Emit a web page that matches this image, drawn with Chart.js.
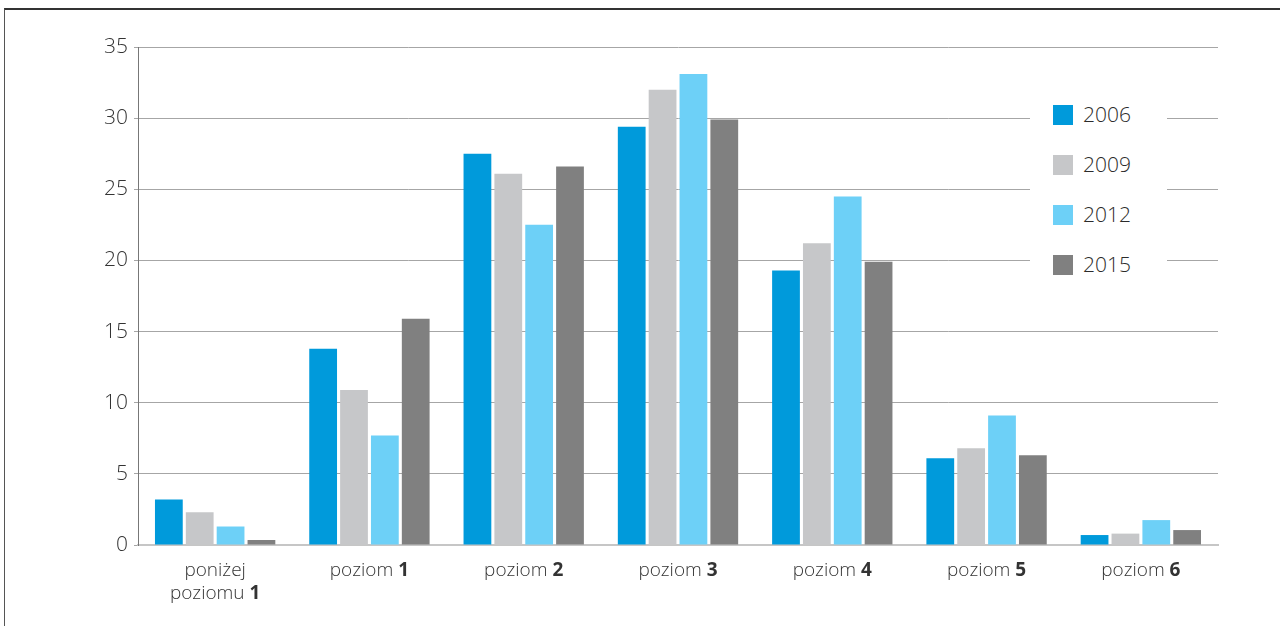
<!DOCTYPE html>
<html>
<head>
<meta charset="utf-8">
<script src="https://cdn.jsdelivr.net/npm/chart.js@4"></script>
<style>
  html, body { margin: 0; padding: 0; background: #fff; }
  .wrap { position: relative; width: 1280px; height: 626px; overflow: hidden; }
  .frame { position: absolute; left: 4px; top: 8px; width: 1300px; height: 700px;
           border-top: 2px solid #333; border-left: 1px solid #555; }
  canvas { position: absolute; left: 0; top: 0; }
  .legend { position: absolute; left: 1030px; top: 96px; width: 137px; height: 194px;
            background: #fff; font-family: "Open Sans", sans-serif; font-weight: 300;
            color: #2b2b2b; font-size: 21px; }
  .legend div { position: absolute; left: 23px; height: 22px; line-height: 22px; }
  .legend span { display: inline-block; width: 20px; height: 20px; vertical-align: -3px; margin-right: 10px; }
</style>
</head>
<body>
<div class="wrap">
  <div class="frame"></div>
  <canvas id="c" width="1280" height="626"></canvas>
  <div class="legend" id="legend"></div>
</div>
<script>
// dane
const categories = [["poniżej", "poziomu 1"], "poziom 1", "poziom 2", "poziom 3", "poziom 4", "poziom 5", "poziom 6"];
const years = ["2006", "2009", "2012", "2015"];
const colors = ["#009adb", "#c6c7c9", "#6dd0f7", "#808080"];
const v2006 = [3.2, 13.8, 27.5, 29.4, 19.3, 6.1, 0.7];
const v2009 = [2.3, 10.9, 26.1, 32.0, 21.2, 6.8, 0.8];
const v2012 = [1.3, 7.7, 22.5, 33.1, 24.5, 9.1, 1.75];
const v2015 = [0.35, 15.9, 26.6, 29.9, 19.9, 6.3, 1.05];
const yTicks = [0, 5, 10, 15, 20, 25, 30, 35];

const series = [v2006, v2009, v2012, v2015];

// etykiety osi x z pogrubiona cyfra
const boldLabels = {
  id: "boldLabels",
  afterDraw(chart) {
    const ctx = chart.ctx;
    const xs = chart.scales.x;
    ctx.save();
    ctx.fillStyle = "#333";
    ctx.textBaseline = "middle";
    ctx.textAlign = "left";
    categories.forEach((lab, i) => {
      const lines = Array.isArray(lab) ? lab : [lab];
      const cx = xs.getPixelForTick(i);
      lines.forEach((line, j) => {
        const k = line.lastIndexOf(" ");
        const head = line.slice(0, k + 1);
        const num = line.slice(k + 1);
        const isNum = /^\d+$/.test(num);
        const normal = isNum ? head : line;
        const bold = isNum ? num : "";
        ctx.font = "300 19px 'Open Sans'";
        const w1 = ctx.measureText(normal).width;
        ctx.font = "bold 19px 'Open Sans'";
        const w2 = ctx.measureText(bold).width;
        let x = cx - (w1 + w2) / 2;
        const y = xs.top + 26 + j * 23;
        ctx.font = "300 19px 'Open Sans'";
        ctx.fillText(normal, x, y);
        ctx.font = "bold 19px 'Open Sans'";
        ctx.fillText(bold, x + w1, y);
      });
    });
    ctx.restore();
  }
};

new Chart(document.getElementById("c"), {
  type: "bar",
  data: {
    labels: categories,
    datasets: years.map((y, i) => ({
      label: y,
      data: series[i],
      backgroundColor: colors[i],
      categoryPercentage: 0.8,
      barPercentage: 0.9,
    })),
  },
  options: {
    responsive: false,
    animation: false,
    layout: { padding: { top: 47, right: 62, left: 0, bottom: 0 } },
    plugins: { legend: { display: false }, tooltip: { enabled: false } },
    scales: {
      x: {
        grid: { display: false },
        border: { color: "#c6c6c6", width: 2 },
        ticks: { color: "rgba(0,0,0,0)", font: { size: 18 } },
        afterFit(s) { s.height = 81; },
      },
      y: {
        min: 0, max: 35,
        afterBuildTicks(s) { s.ticks = yTicks.map(v => ({ value: v })); },
        grid: { color: "#a6a6a6", tickLength: 4 },
        border: { color: "#777", width: 1 },
        ticks: { color: "#333", padding: 6, font: { family: "'Open Sans'", size: 21, weight: 300 } },
        afterFit(s) { s.width = 138; },
      },
    },
  },
  plugins: [boldLabels],
});

// legenda
const leg = document.getElementById("legend");
years.forEach((y, i) => {
  const d = document.createElement("div");
  d.style.top = (7 + i * 50) + "px";
  d.innerHTML = '<span style="background:' + colors[i] + '"></span>' + y;
  leg.appendChild(d);
});
</script>
</body>
</html>
